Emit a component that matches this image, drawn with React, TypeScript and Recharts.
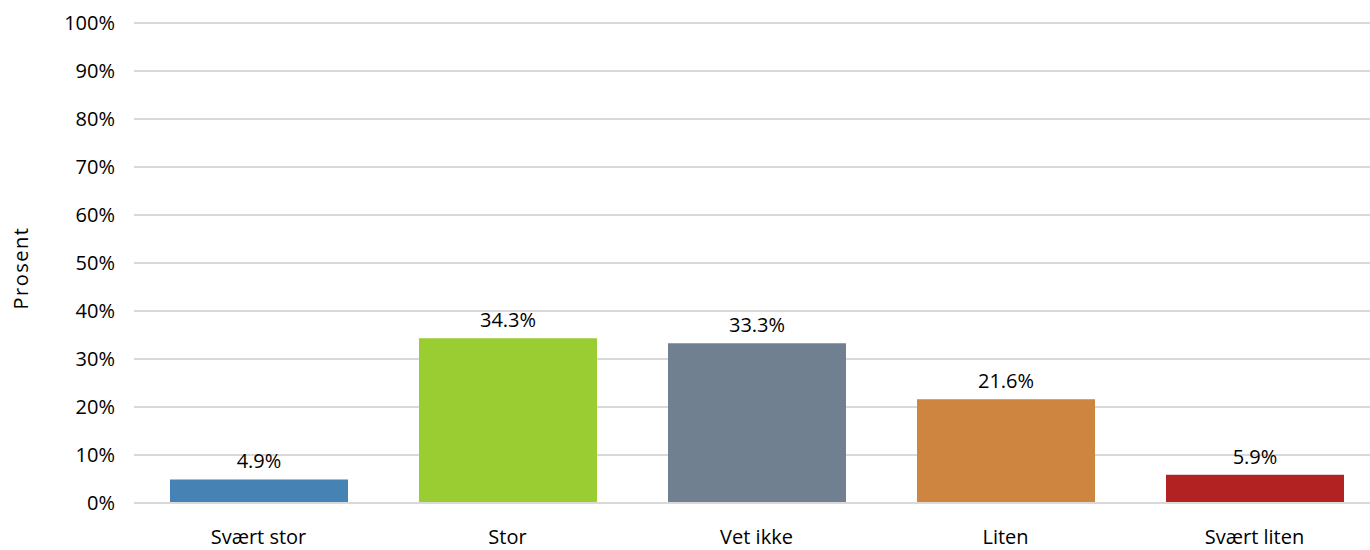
import { BarChart, Bar, XAxis, YAxis, CartesianGrid, Cell, LabelList } from 'recharts';

const categories = ['Svært stor', 'Stor', 'Vet ikke', 'Liten', 'Svært liten'];
const values = [4.9, 34.3, 33.3, 21.6, 5.9];
const colors = ['#4682B4', '#9ACD32', '#708090', '#CD853F', '#B22222'];
const yTicks = [0, 10, 20, 30, 40, 50, 60, 70, 80, 90, 100];

const data = categories.map((name, i) => ({ name, value: values[i] }));

const font = '"Open Sans", "Liberation Sans", sans-serif';

const YLabel = (props: any) => {
  const vb = props.viewBox || {};
  const x = (vb.x ?? 0) + 20;
  const y = (vb.y ?? 0) + (vb.height ?? 0) / 2 + 5;
  return (
    <text
      x={x}
      y={y}
      transform={`rotate(-90, ${x}, ${y})`}
      textAnchor="middle"
      dominantBaseline="central"
      fontSize={20}
      letterSpacing={1.5}
      fontFamily={font}
      fill="#000"
    >
      Prosent
    </text>
  );
};

export default function App() {
  return (
    <div style={{ position: 'absolute', left: 0, top: 0, width: 1370, height: 550, background: '#fff', overflow: 'hidden' }}>
      <BarChart
        width={1370}
        height={550}
        data={data}
        margin={{ top: 23, right: -9, left: 0, bottom: 0 }}
        barSize={178}
      >
        <CartesianGrid vertical={false} stroke="#d9d9d9" strokeWidth={2} />
        <XAxis
          dataKey="name"
          height={47}
          tickLine={false}
          axisLine={{ stroke: '#d9d9d9', strokeWidth: 2 }}
          tickSize={0}
          tickMargin={27}
          tick={{ fontSize: 20, fontFamily: font, fill: '#000' }}
        />
        <YAxis
          width={134}
          domain={[0, 100]}
          ticks={yTicks}
          interval={0}
          tickFormatter={(v: number) => `${v}%`}
          axisLine={false}
          tickLine={false}
          tickSize={0}
          tickMargin={19}
          tick={{ fontSize: 20, fontFamily: font, fill: '#000' }}
          label={<YLabel />}
        />
        <Bar dataKey="value" isAnimationActive={false}>
          {data.map((d, i) => (
            <Cell key={d.name} fill={colors[i]} />
          ))}
          <LabelList
            dataKey="value"
            position="top"
            offset={11}
            formatter={(v: any) => `${Number(v).toFixed(1)}%`}
            style={{ fontSize: 20, fontFamily: font, fill: '#000' }}
          />
        </Bar>
      </BarChart>
    </div>
  );
}
